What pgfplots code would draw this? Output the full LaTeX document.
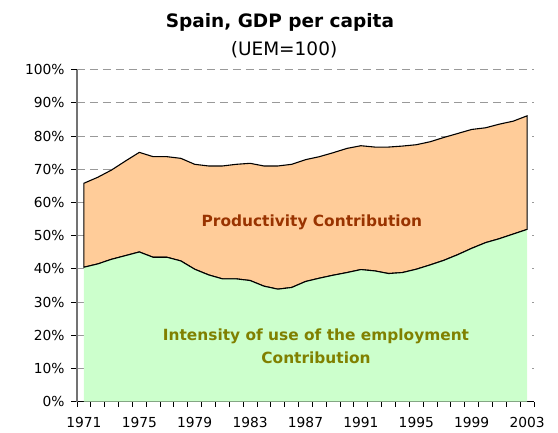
\documentclass[border=0pt]{standalone}
\usepackage{pgfplots}
\pgfplotsset{compat=1.18}
\usepgfplotslibrary{fillbetween}
\usepackage{fontspec}
\setmainfont{DejaVu Sans}
\definecolor{prodfill}{HTML}{FFCC99}
\definecolor{empfill}{HTML}{CCFFCC}
\definecolor{prodtext}{HTML}{993300}
\definecolor{emptext}{HTML}{808000}

\pgfplotstableread{
year lower upper
1971 40.5 65.8
1972 41.5 67.6
1973 42.9 69.8
1974 44.0 72.5
1975 45.1 75.1
1976 43.5 73.8
1977 43.5 73.8
1978 42.4 73.3
1979 39.9 71.5
1980 38.2 71.0
1981 37.0 71.0
1982 37.0 71.5
1983 36.5 71.8
1984 34.8 71.0
1985 33.9 71.0
1986 34.4 71.5
1987 36.2 72.9
1988 37.2 73.8
1989 38.1 75.0
1990 38.9 76.3
1991 39.8 77.1
1992 39.4 76.7
1993 38.6 76.7
1994 38.9 77.0
1995 39.9 77.4
1996 41.2 78.3
1997 42.6 79.6
1998 44.3 80.8
1999 46.2 82.0
2000 47.9 82.5
2001 49.1 83.6
2002 50.5 84.5
2003 51.9 86.1
}\spain

\begin{document}
\begin{tikzpicture}
\begin{axis}[
  scale only axis,
  width=457pt, height=332pt,
  xmin=1970.5, xmax=2003.5,
  ymin=0, ymax=100,
  axis lines*=left,
  x axis line style={black, line width=1.2pt},
  y axis line style={gray!90!black, line width=1.6pt},
  xtick={1971,1975,...,2003},
  minor xtick={1970.5,1971.5,...,2003.5},
  major x tick style={draw=none},
  minor x tick style={black, line width=0.9pt},
  minor tick length=5pt,
  ytick={0,10,...,100},
  major y tick style={black, line width=0.9pt},
  major tick length=6pt,
  tick align=outside,
  x tick label style={/pgf/number format/1000 sep={}, yshift=-6pt},
  y tick label style={xshift=-3pt},
  yticklabel={\pgfmathprintnumber{\tick}\%},
  /pgf/number format/assume math mode=true,
  tick label style={font=\fontsize{13.8}{16}\selectfont, text=black},
  ymajorgrids,
  grid style={gray!80, line width=0.9pt, dash pattern=on 8pt off 5pt},
  clip=false,
]
  \addplot[name path=U, draw=none, forget plot] table[x=year, y=upper]{\spain};
  \addplot[name path=L, draw=none, forget plot] table[x=year, y=lower]{\spain};
  \addplot[fill=prodfill, draw=black, line width=1.1pt] fill between[of=U and L];
  \addplot[fill=empfill, draw=none] table[x=year, y=lower]{\spain} \closedcycle;
  \addplot[black, line width=1.1pt] table[x=year, y=lower]{\spain};

  \node[font=\fontsize{18.5}{20}\bfseries\selectfont] at (rel axis cs:0.444,1.1425) {Spain, GDP per capita};
  \node[font=\fontsize{18.5}{20}\selectfont] at (rel axis cs:0.453,1.059) {(UEM=100)};
  \node[font=\fontsize{15.4}{18}\bfseries\selectfont, text=prodtext] at (rel axis cs:0.514,0.539) {Productivity Contribution};
  \node[font=\fontsize{15.4}{23}\bfseries\selectfont, text=emptext, align=center] at (rel axis cs:0.523,0.166) {Intensity of use of the employment\\Contribution};
\end{axis}
\pgfresetboundingbox
\path[use as bounding box] ([xshift=-77pt,yshift=-30.3pt]current axis.south west) rectangle ++(558pt,432pt);
\end{tikzpicture}
\end{document}
